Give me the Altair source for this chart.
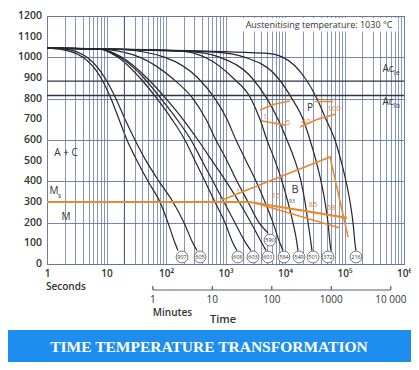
import altair as alt
import pandas as pd

# ---------------- data (time in s, temperature in °C) ----------------
curve_labels = ["907", "605", "608", "603", "601", "590", "584", "549", "501", "372", "216"]

t_907 = [1, 1.65, 4.03, 8.08, 11.9, 16.2, 22.1, 32.6, 49.8, 79.3, 108, 142, 159]
T_907 = [1045, 1040, 1000, 900, 800, 700, 600, 500, 400, 300, 200, 100, 65]
t_605 = [1, 2.01, 4.70, 9.43, 14.4, 20.5, 30.1, 46.1, 76.3, 131, 201, 284, 332]
T_605 = [1045, 1040, 1000, 900, 800, 700, 600, 500, 400, 300, 200, 100, 65]
t_608 = [1, 7.78, 15.6, 36.6, 70.6, 126, 208, 307, 452, 666, 981, 1340, 1560]
T_608 = [1045, 1040, 1000, 900, 800, 700, 600, 500, 400, 300, 200, 100, 65]
t_603 = [1, 7.78, 16.9, 42.7, 82.4, 153, 263, 403, 616, 944, 1440, 2210, 2680]
T_603 = [1045, 1040, 1000, 900, 800, 700, 600, 500, 400, 300, 200, 100, 65]
t_601 = [1, 7.78, 18.2, 47.9, 100, 193, 345, 593, 1020, 1690, 2680, 4110, 4800]
T_601 = [1045, 1040, 1000, 900, 800, 700, 600, 500, 400, 300, 200, 100, 65]
t_590 = [1, 7.78, 36.6, 126, 284, 470, 692, 1060, 1560, 2390, 3660, 5180]
T_590 = [1045, 1040, 1000, 900, 800, 700, 600, 500, 400, 300, 200, 150]
t_584 = [1, 16.9, 96.2, 345, 666, 1060, 1500, 2210, 3260, 4610, 6280, 8240, 9250]
T_584 = [1045, 1038, 1000, 900, 800, 700, 600, 500, 400, 300, 200, 100, 65]
t_549 = [1, 172, 452, 1340, 2680, 3800, 4980, 6790, 8910, 11200, 13600, 15900, 16500]
T_549 = [1045, 1030, 1000, 900, 800, 700, 600, 500, 400, 300, 200, 100, 65]
t_501 = [1, 253, 808, 2790, 4980, 7630, 10800, 14700, 18600, 21700, 24400, 27400, 28400]
T_501 = [1045, 1028, 1000, 900, 800, 700, 600, 500, 400, 300, 200, 100, 65]
t_372 = [1, 666, 2130, 7630, 13100, 20100, 26300, 33200, 40300, 47000, 52800, 57100, 59300]
T_372 = [1045, 1025, 1000, 900, 800, 700, 600, 500, 400, 300, 200, 100, 65]
t_216 = [1, 4610, 9250, 21700, 34500, 48900, 69200, 87300, 106000, 124000, 139000, 150000, 156000]
T_216 = [1045, 1020, 1000, 900, 800, 700, 600, 500, 400, 300, 200, 100, 65]

# hardness circles at the curve ends
circle_t = [186, 373, 1620, 2900, 5180, 5600, 9620, 17200, 29600, 52800, 156000]
circle_T = [34, 34, 34, 34, 34, 116, 34, 34, 34, 34, 34]

# critical temperatures
ac_T = [885, 815]

# orange transformation lines
ms_t = [1, 2580, 110000]
ms_T = [300, 300, 223]
orange_lines = {
    "b_start": ([873, 57100, 115000], [310, 518, 130]),
    "b_low": ([3130, 84000], [295, 174]),
    "p_start_a": ([3800, 6790, 12100], [745, 774, 789]),
    "p_start_b": ([31900, 64100], [786, 786]),
    "p_end_a": ([4110, 10400], [692, 672]),
    "p_end_b": ([17900, 35900, 71900], [663, 701, 726]),
}

orange_text = ["1", "5", "40", "100", "1", "15", "85", "58"]
orange_text_t = [4610, 11200, 22700, 66700, 1620, 7060, 29600, 59300]
orange_text_T = [711, 682, 687, 750, 348, 329, 285, 271]

dark_text = ["A + C", "M", "M", "s", "P", "B", "93", "Ac", "1e", "Ac", "1b"]
dark_text_t = [2.09, 2.09, 1.31, 1.62, 26300, 14700, 13100, 538000, 734000, 538000, 734000]
dark_text_T = [537, 227, 353, 329, 755, 358, 305, 943, 924, 784, 764]
dark_text_size = [10, 10, 10, 6.5, 10, 11, 5, 10, 6.5, 10, 6.5]

x_decades = [1, 10, 100, 1000, 10000, 100000, 1000000]
x_grid = [m * 10 ** e for e in range(6) for m in range(1, 10)] + [1000000]
y_ticks = list(range(0, 1300, 100))

minute_ticks_s = [60, 600, 6000, 60000, 600000]
minute_labels = ["1", "10", "100", "1000", "10 000"]

# ---------------- build tables ----------------
curves = {
    "907": (t_907, T_907), "605": (t_605, T_605), "608": (t_608, T_608),
    "603": (t_603, T_603), "601": (t_601, T_601), "590": (t_590, T_590),
    "584": (t_584, T_584), "549": (t_549, T_549), "501": (t_501, T_501),
    "372": (t_372, T_372), "216": (t_216, T_216),
}
df_curves = pd.DataFrame(
    [dict(curve=k, t=t, T=T) for k, (ts, Ts) in curves.items() for t, T in zip(ts, Ts)]
)
df_orange = pd.DataFrame(
    [dict(seg=k, t=t, T=T) for k, (ts, Ts) in orange_lines.items() for t, T in zip(ts, Ts)]
)
df_ms = pd.DataFrame({"t": ms_t, "T": ms_T})
df_circ = pd.DataFrame({"lab": curve_labels, "t": circle_t, "T": circle_T})
df_otext = pd.DataFrame({"txt": orange_text, "t": orange_text_t, "T": orange_text_T})
df_dtext = pd.DataFrame({"txt": dark_text, "t": dark_text_t, "T": dark_text_T, "fs": dark_text_size})
df_ac = pd.DataFrame({"T": ac_T})
df_min = pd.DataFrame({"t": minute_ticks_s, "lab": minute_labels})
df_ylab = pd.DataFrame({"T": y_ticks})

ORANGE = "#ea8a2e"
INK = "#26262e"
TXT = "#333333"
FONT = "Open Sans"

xs = alt.Scale(type="log", domain=[1, 1000000], nice=False)
ys = alt.Scale(domain=[0, 1200], nice=False)

label_expr = (
    "datum.value == 1 ? '1' : datum.value == 10 ? '10' : datum.value == 100 ? '10²' : "
    "datum.value == 1000 ? '10³' : datum.value == 10000 ? '10⁴' : "
    "datum.value == 100000 ? '10⁵' : datum.value == 1000000 ? '10⁶' : ''"
)
x_axis = alt.Axis(values=x_grid, labelExpr=label_expr, grid=True, gridColor="#7282ad",
                  gridWidth=0.85, tickSize=0, domain=False, labelFlush=False,
                  labelOverlap=False, labelPadding=4, labelFontSize=10, title=None)
y_axis = alt.Axis(values=y_ticks, grid=True, gridColor="#6878a2", gridWidth=0.9,
                  tickSize=0, domain=False, labels=False,
                  title="Temperature in °C", titlePadding=32, titleFontSize=11)


def X(field="t"):
    return alt.X(f"{field}:Q", scale=xs, title=None)


def Y(field="T"):
    return alt.Y(f"{field}:Q", scale=ys, title=None)


base_curves = alt.Chart(df_curves).mark_line(color=INK, strokeWidth=1.2, interpolate="monotone").encode(
    x=alt.X("t:Q", scale=xs, axis=x_axis),
    y=alt.Y("T:Q", scale=ys, axis=y_axis),
    detail="curve:N",
)

# y tick labels drawn as text through the y scale (every 100 °C)
ylabels = alt.Chart(df_ylab).mark_text(font=FONT, fontSize=10.5, fontWeight=600, color=TXT,
                                       align="right", baseline="middle").encode(
    x=alt.value(-5), y=Y(), text=alt.Text("T:Q", format="d"))

aust_box = alt.Chart(pd.DataFrame({"t1": [1900], "t2": [800000], "T1": [1125], "T2": [1190]})).mark_rect(
    color="white").encode(x=X("t1"), x2="t2", y=Y("T1"), y2="T2")
aust_text = alt.Chart(pd.DataFrame({"t": [37300], "T": [1156]})).mark_text(
    text="Austenitising temperature: 1030 °C", font=FONT, fontSize=9, color=TXT).encode(x=X(), y=Y())

rule20 = alt.Chart(pd.DataFrame({"t": [20]})).mark_rule(color="#4a5a8a", strokeWidth=1.1).encode(x=X())
ac_rules = alt.Chart(df_ac).mark_rule(color="#30343c", strokeWidth=1.4).encode(y=Y())

orange = alt.Chart(df_orange).mark_line(color=ORANGE, strokeWidth=1.6).encode(x=X(), y=Y(), detail="seg:N")
ms_line = alt.Chart(df_ms).mark_line(color=ORANGE, strokeWidth=2.2).encode(x=X(), y=Y())

otext = alt.Chart(df_otext).mark_text(font=FONT, fontSize=8, color=ORANGE).encode(x=X(), y=Y(), text="txt:N")
dtext = alt.Chart(df_dtext).mark_text(font=FONT, color=TXT).encode(
    x=X(), y=Y(), text="txt:N", size=alt.Size("fs:Q", scale=None))

circles = alt.Chart(df_circ).mark_circle(size=140, fill="white", stroke="#555", strokeWidth=0.8,
                                         opacity=1, fillOpacity=1).encode(x=X(), y=Y())
circ_text = alt.Chart(df_circ).mark_text(font=FONT, fontSize=5.5, color=TXT).encode(x=X(), y=Y(), text="lab:N")

one = pd.DataFrame({"a": [0]})
seconds = alt.Chart(one).mark_text(text="Seconds", font=FONT, fontSize=10, fontWeight=600, color=TXT,
                                   align="left").encode(x=alt.value(-1), y=alt.value(271))
min_line = alt.Chart(pd.DataFrame({"t1": [60], "t2": [600000]})).mark_rule(color="#555d70", strokeWidth=1.2).encode(
    x=X("t1"), x2="t2", y=alt.value(274))
min_ticks = alt.Chart(df_min).mark_rule(color="#555d70", strokeWidth=1.2).encode(
    x=X(), y=alt.value(270), y2=alt.value(274))
min_labels = alt.Chart(df_min).mark_text(font=FONT, fontSize=10, color=TXT).encode(
    x=X(), y=alt.value(284), text="lab:N")
minutes = alt.Chart(pd.DataFrame({"t": [60]})).mark_text(text="Minutes", font=FONT, fontSize=10, fontWeight=600,
                                                         color=TXT, align="left").encode(x=X(), y=alt.value(297))
time_lbl = alt.Chart(one).mark_text(text="Time", font=FONT, fontSize=11, fontWeight=600, color=TXT).encode(
    x=alt.value(176), y=alt.value(304))

banner = alt.Chart(one).mark_rect(color="#1d8ef0").encode(
    x=alt.value(-39), x2=alt.value(364), y=alt.value(314), y2=alt.value(346))
banner_text = alt.Chart(one).mark_text(text="TIME TEMPERATURE TRANSFORMATION", font="Liberation Serif",
                                       fontWeight="bold", fontSize=15.5, color="white").encode(
    x=alt.value(162), y=alt.value(331))

chart = alt.layer(
    base_curves, ylabels, aust_box, aust_text, rule20, ac_rules, orange, ms_line, otext, dtext,
    circles, circ_text, seconds, min_line, min_ticks, min_labels, minutes, time_lbl,
    banner, banner_text,
).properties(
    width=357, height=248,
    padding={"left": 39, "top": 8, "right": 7, "bottom": 98},
    autosize=alt.AutoSizeParams(type="none"),
).configure(background="white").configure_view(stroke="#56627f", strokeWidth=1).configure_axis(
    labelFont=FONT, labelColor=TXT, labelFontWeight=600, titleFont=FONT, titleColor=TXT, titleFontWeight=600
)

chart.save("out.html", embed_options={"renderer": "svg", "actions": False})
